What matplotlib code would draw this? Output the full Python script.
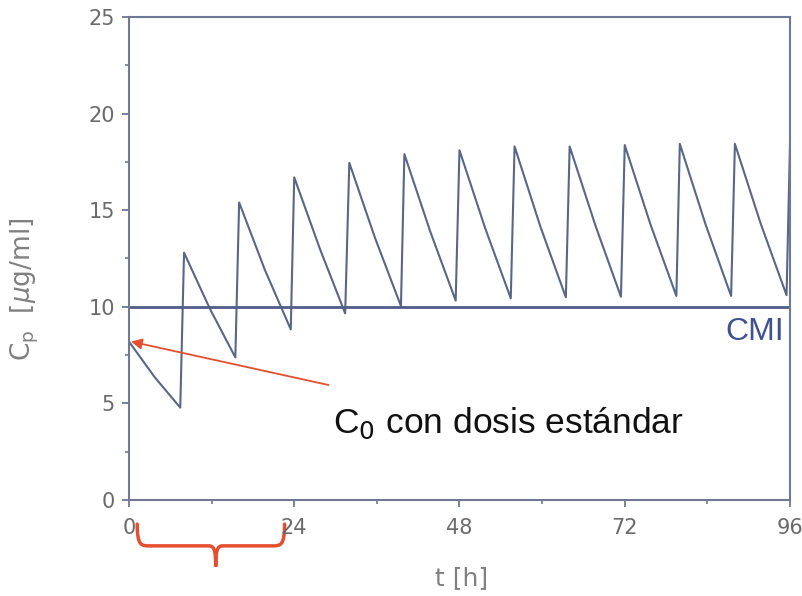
import matplotlib
matplotlib.use("Agg")
import matplotlib.pyplot as plt
from matplotlib.path import Path
from matplotlib.patches import PathPatch
from matplotlib.ticker import MultipleLocator
import matplotlib.transforms as mtransforms

# dosis cada 8 h: pico al administrar, valle justo antes de la siguiente dosis
t_pico = [0, 8, 16, 24, 32, 40, 48, 56, 64, 72, 80, 88, 96]
c_pico = [8.2, 12.8, 15.4, 16.7, 17.45, 17.9, 18.1, 18.3, 18.3, 18.37, 18.43, 18.43, 18.45]
t_medio = [3.75, 11.75, 19.75, 27.75, 35.75, 43.75, 51.75, 59.75, 67.75, 75.75, 83.75, 91.75]
c_medio = [6.35, 9.9, 11.9, 12.98, 13.55, 13.9, 14.05, 14.15, 14.2, 14.25, 14.25, 14.3]
t_valle = [7.45, 15.45, 23.5, 31.4, 39.5, 47.45, 55.45, 63.45, 71.45, 79.5, 87.45, 95.5]
c_valle = [4.78, 7.38, 8.83, 9.66, 10.04, 10.32, 10.44, 10.49, 10.52, 10.56, 10.56, 10.6]
cmi = 10

xticks = [0, 24, 48, 72, 96]
yticks = [0, 5, 10, 15, 20, 25]

# curva completa: pico -> medio -> valle -> siguiente pico
t, c = [], []
for i in range(len(t_valle)):
    t += [t_pico[i], t_medio[i], t_valle[i]]
    c += [c_pico[i], c_medio[i], c_valle[i]]
t.append(t_pico[-1])
c.append(c_pico[-1])

plt.rcParams['mathtext.fontset'] = 'custom'
plt.rcParams['mathtext.rm'] = 'DejaVu Sans'
plt.rcParams['mathtext.it'] = 'DejaVu Sans:italic'

azul = '#5a6686'
gris = '#6a6a6a'
rojo = '#e4502f'

fig = plt.figure(figsize=(8.03, 5.96), dpi=100)
ax = fig.add_axes([0.1606, 0.1611, 0.8232, 0.8104])

ax.plot(t, c, color=azul, lw=1.5, solid_joinstyle='round')
ax.axhline(cmi, color='#4f5d87', lw=2)

ax.set_xlim(0, 96)
ax.set_ylim(0, 25)
ax.set_xticks(xticks)
ax.set_yticks(yticks)
ax.xaxis.set_minor_locator(MultipleLocator(12))
ax.yaxis.set_minor_locator(MultipleLocator(2.5))
for s in ax.spines.values():
    s.set_color('#6f7894')
    s.set_linewidth(1.5)
ax.tick_params(which='major', length=5, width=1.3, color='#6f7894',
               labelsize=15, labelcolor=gris)
ax.tick_params(axis='x', which='major', pad=8)
ax.tick_params(axis='y', which='major', pad=5)
ax.tick_params(which='minor', length=3, width=1.2, color='#6f7894')

fig.text(0.031, 0.515, r'C$_\mathrm{p}$  [$\mu$g/ml]', rotation=90, ha='center',
         va='center', fontsize=19, color='#808080')
fig.text(0.575, 0.03, 't [h]', ha='center', va='center', fontsize=18, color='#808080')

ax.text(90.9, 8.7, 'CMI', ha='center', va='center', fontsize=23,
        color='#3f5190', family='Liberation Sans')

ax.annotate('', xy=(0.3, 8.2), xytext=(29.0, 5.95),
            arrowprops=dict(arrowstyle='-|>', color=rojo, lw=1.3,
                            mutation_scale=16, shrinkA=0, shrinkB=0))
ax.text(29.6, 3.47, r'C$_\mathrm{0}$ con dosis estándar', ha='left', va='baseline',
        fontsize=25.5, color='#111111', family='Liberation Sans')

# llave roja bajo el primer día
tr = mtransforms.blended_transform_factory(ax.transData, ax.transAxes)
x0, x1, xm = 1.2, 22.6, 12.6
y_top, y_mid, y_pt = -0.05, -0.095, -0.138
verts = [(x0, y_top), (x0, y_mid), (x0 + 0.6, y_mid), (x0 + 1.8, y_mid),
         (xm - 1.0, y_mid),
         (xm - 0.2, y_mid), (xm, y_mid - 0.01), (xm, y_pt),
         (xm, y_mid - 0.01), (xm + 0.2, y_mid), (xm + 1.0, y_mid),
         (x1 - 1.8, y_mid),
         (x1 - 0.6, y_mid), (x1, y_mid), (x1, y_top)]
codes = [Path.MOVETO, Path.CURVE4, Path.CURVE4, Path.CURVE4,
         Path.LINETO,
         Path.CURVE4, Path.CURVE4, Path.CURVE4,
         Path.CURVE4, Path.CURVE4, Path.CURVE4,
         Path.LINETO,
         Path.CURVE4, Path.CURVE4, Path.CURVE4]
ax.add_patch(PathPatch(Path(verts, codes), fill=False, edgecolor=rojo, lw=2.5,
                       transform=tr, clip_on=False, capstyle='round'))

fig.savefig('out.png', dpi=100)
